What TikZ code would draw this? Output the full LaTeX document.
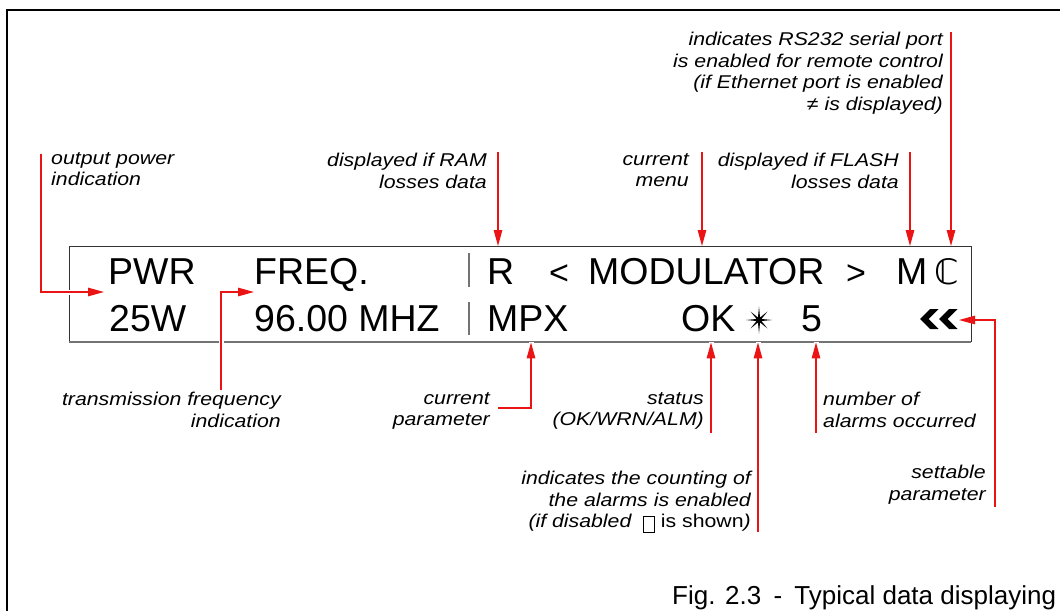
\documentclass[tikz,border=0pt]{standalone}
\usepackage{fontspec}
\setmainfont{Liberation Sans}
\newfontfamily\labfont[FakeStretch=1.15]{Liberation Sans}
\newfontfamily\dejavu{DejaVu Sans}
\usetikzlibrary{arrows.meta}
\definecolor{arrred}{RGB}{235,20,20}
\newcommand{\emptybox}{{\setlength{\fboxsep}{0pt}\setlength{\fboxrule}{0.9pt}\raisebox{-4pt}{\fbox{\rule{0pt}{15pt}\hspace{10pt}}}}}
\tikzset{
  lab/.style={inner sep=0pt, font=\labfont\fontsize{18.5}{21.5}\selectfont\itshape, execute at begin node=\strut},
  labr/.style={lab, align=right, anchor=north east},
  labl/.style={lab, align=left, anchor=north west},
  disptxt/.style={inner sep=0pt, anchor=base west, font=\fontsize{37.5}{40}\selectfont},
  conn/.style={draw=arrred, line width=1.3pt, -{Triangle[length=16pt,width=8.5pt]},
               preaction={draw=white, line width=5pt, arrows=-}},
  frame/.style={line width=1.2pt, black},
  boxline/.style={line width=1pt, black!80},
  boxbot/.style={line width=2pt, black!55},
  sepline/.style={line width=1.5pt, black!55},
  symb/.style={fill=black},
}
\begin{document}
\begin{tikzpicture}[x=1pt,y=-1pt]
\useasboundingbox (0,0) rectangle (1060,611);
% outer frame
\draw[frame] (1060,10) -- (7,10) -- (7,611);
% display box
\node[inner sep=0pt, minimum width=902pt, minimum height=96pt, anchor=north west] (disp) at (69,246) {};
\draw[boxline] (disp.south west) -- (disp.north west) -- (disp.north east) -- (disp.south east);
\draw[boxbot] (disp.south west) -- (disp.south east);
\draw[sepline] (469,253) -- (469,287);
\draw[sepline] (469,302) -- (469,335);
% display texts row 1
\node[disptxt] (pwr) at (108,284) {PWR};
\node[disptxt] (freq) at (254,284) {FREQ.};
\node[disptxt] (r) at (487,284) {R};
\node[disptxt, font=\fontsize{34}{40}\selectfont] (lt) at (549,284) {<};
\node[disptxt] (mod) at (588,284) {MODULATOR};
\node[disptxt, font=\fontsize{34}{40}\selectfont] (gt) at (846,284) {>};
\node[disptxt] (m) at (896,284) {M};
\node[inner sep=0pt, anchor=base, font=\dejavu\fontsize{35}{40}\selectfont] (cc) at (947,284) {ℂ};
% row 2
\node[disptxt] (pw) at (109,331) {25W};
\node[disptxt] (fr) at (254,331) {96.00 MHZ};
\node[disptxt] (mpx) at (487,331) {MPX};
\node[disptxt] (ok) at (681,331) {OK};
\node[disptxt] (five) at (801,331) {5};
% star symbol
\coordinate (star) at (759,320);
\fill[symb, shift={(star)}] (0:13)--(22.5:2.7)--(45:12)--(67.5:2.7)--(90:13.5)--(112.5:2.7)--(135:12)--(157.5:2.7)--(180:13)--(202.5:2.7)--(225:12)--(247.5:2.7)--(270:13.5)--(292.5:2.7)--(315:12)--(337.5:2.7)--cycle;
% settable chevrons
\coordinate (chev1) at (920,319);
\coordinate (chev2) at (939,319);
\fill[symb] (chev1) -- ++(10,-10) -- ++(8.5,0) -- ++(-10,10) -- ++(10,10) -- ++(-8.5,0) -- cycle;
\fill[symb] (chev2) -- ++(10,-10) -- ++(8.5,0) -- ++(-10,10) -- ++(10,10) -- ++(-8.5,0) -- cycle;
% labels
\node[labl] (lpow) at (51,152) {output power\\indication};
\node[labr] (lfreq) at (281,392) {transmission frequency\\indication};
\node[labr] (lpar) at (490,392) {current\\parameter};
\node[labr] (lram) at (487,153) {displayed if RAM\\losses data};
\node[labr] (lmenu) at (689,153) {current\\menu};
\node[labr] (lflash) at (899,153) {displayed if FLASH\\losses data};
\node[labr] (lrs) at (943,32) {indicates RS232 serial port\\is enabled for remote control\\(if Ethernet port is enabled\\≠ is displayed)};
\node[labr] (lstat) at (704,392) {status\\(OK/WRN/ALM)};
\node[labr] (lcount) at (751,471) {indicates the counting of\\the alarms is enabled\\(if disabled\ \ {\upshape\emptybox\ is shown})};
\node[labl] (lnum) at (823,392) {number of\\alarms occurred};
\node[labr] (lset) at (986,465) {settable\\parameter};
\node[inner sep=0pt, anchor=base west, font=\fontsize{26}{30}\selectfont] (cap) at (672,604) {Fig. 2.3\hspace{5pt} -\hspace{5pt} Typical data displaying};
% connector coordinates
\coordinate (c1) at (41,154);   \coordinate (t1) at (104,292);
\coordinate (c2) at (221,390);  \coordinate (t2) at (254,292);
\coordinate (c3) at (498,152);
\coordinate (c4) at (702,152);
\coordinate (c5) at (910,152);
\coordinate (c6) at (951,32);
\coordinate (c7) at (498,408);  \coordinate (c7b) at (531,408);
\coordinate (c8) at (711,433);
\coordinate (c9) at (758,532);
\coordinate (c10) at (816,433);
\coordinate (c11) at (995,507); \coordinate (t11) at (959,320);
% connectors
\draw[conn] (c1) |- (t1);
\draw[conn] (c2) |- (t2);
\draw[conn] (c3) -- (c3 |- disp.north);
\draw[conn] (c4) -- (c4 |- disp.north);
\draw[conn] (c5) -- (c5 |- disp.north);
\draw[conn] (c6) -- (c6 |- disp.north);
\draw[conn] (c7) -- (c7b) -- (c7b |- disp.south);
\draw[conn] (c8) -- (c8 |- disp.south);
\draw[conn] (c9) -- (c9 |- disp.south);
\draw[conn] (c10) -- (c10 |- disp.south);
\draw[conn] (c11) |- (t11);
\end{tikzpicture}
\end{document}
